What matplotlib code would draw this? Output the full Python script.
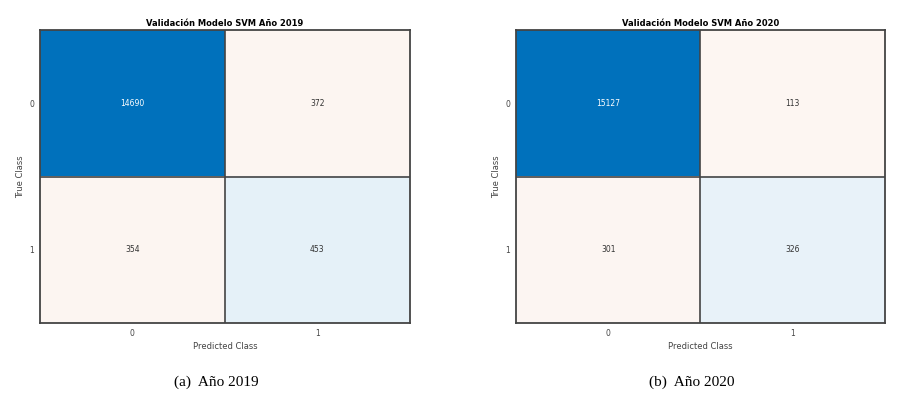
import numpy as np
import matplotlib.pyplot as plt

# confusion matrix data (rows = true class, cols = predicted class)
classes = ['0', '1']
cm_2019 = [[14690, 372],
           [354, 453]]
cm_2020 = [[15127, 113],
           [301, 326]]
titles = ['Validación Modelo SVM Año 2019', 'Validación Modelo SVM Año 2020']
captions = ['(a)  Año 2019', '(b)  Año 2020']

blue = np.array([0.0, 0.447, 0.741])
red = np.array([0.85, 0.325, 0.098])


def cell_colors(cm):
    cm = np.asarray(cm, dtype=float)
    vmax = cm.max()
    rgb = np.ones(cm.shape + (3,))
    for i in range(cm.shape[0]):
        for j in range(cm.shape[1]):
            if i == j:
                f = 0.07 + 0.93 * cm[i, j] / vmax
                base = blue
            else:
                f = 0.05 + 0.3 * cm[i, j] / vmax
                base = red
            rgb[i, j] = 1 - f * (1 - base)
    return rgb


fig = plt.figure(figsize=(9.02, 3.98), dpi=100)
positions = [[0.0443, 0.188, 0.410, 0.736], [0.572, 0.188, 0.409, 0.736]]
cap_x = [0.240, 0.767]

for k, cm in enumerate([cm_2019, cm_2020]):
    ax = fig.add_axes(positions[k])
    ax.imshow(cell_colors(cm), aspect='auto', interpolation='nearest')
    vmax = np.max(cm)
    for i in range(2):
        for j in range(2):
            col = 'white' if cm[i][j] > 0.5 * vmax else '#333333'
            ax.text(j, i, str(cm[i][j]), ha='center', va='center',
                    fontsize=5.5, color=col)
    ax.axhline(0.5, color='#444444', lw=1.2)
    ax.axvline(0.5, color='#444444', lw=1.2)
    ax.set_xticks(range(2))
    ax.set_yticks(range(2))
    ax.set_xticklabels(classes)
    ax.set_yticklabels(classes)
    ax.tick_params(axis='x', length=0, labelsize=5.5, colors='#444444', pad=4)
    ax.tick_params(axis='y', length=0, labelsize=5.5, colors='#444444', pad=4)
    ax.set_xlabel('Predicted Class', fontsize=6, color='#444444', labelpad=3)
    ax.set_ylabel('True Class', fontsize=6, color='#444444', labelpad=3)
    ax.set_title(titles[k], fontsize=6, fontweight='bold', pad=3)
    for s in ax.spines.values():
        s.set_color('#444444')
        s.set_linewidth(1.3)
    fig.text(cap_x[k], 0.040, captions[k], ha='center', va='center',
             fontsize=11, family='Liberation Serif')

fig.savefig('out.png', dpi=100)
